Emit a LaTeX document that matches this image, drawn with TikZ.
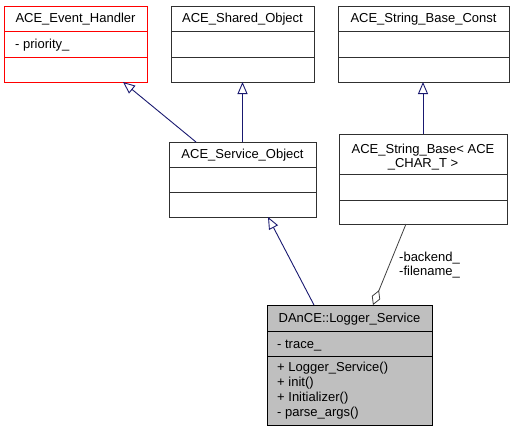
\documentclass[tikz,border=0pt]{standalone}
\usepackage{fontspec}
\setmainfont{Liberation Sans}
\usetikzlibrary{arrows.meta,calc}
\definecolor{edgeblue}{HTML}{191970}
\definecolor{edgegray}{HTML}{404040}
\definecolor{boxgray}{HTML}{BFBFBF}
\definecolor{boxline}{HTML}{303030}
\tikzset{
  cls/.style={draw=boxline, line width=0.9pt, anchor=north west, inner sep=0pt, outer sep=0pt},
  divider/.style={draw=boxline, line width=0.9pt},
  ttl/.style={font=\fontsize{13}{14}\selectfont, align=center, inner sep=0pt, anchor=base},
  mem/.style={font=\fontsize{13}{14.7}\selectfont, align=left, inner sep=0pt, anchor=base west},
  inh/.style={draw=edgeblue, line width=0.9pt, -{Triangle[open, length=12pt, width=10pt, line width=0.9pt]}},
  comp/.style={draw=edgegray, line width=0.8pt, -{Diamond[open, length=16pt, width=9pt, line width=0.8pt]}},
  lbl/.style={font=\fontsize{13}{13.5}\selectfont, align=left, inner sep=0pt, anchor=base west},
}
\begin{document}
\begin{tikzpicture}[x=1pt,y=-1pt]
\useasboundingbox (0,0) rectangle (515,432);

% ACE_Event_Handler
\node[cls, draw=red, minimum width=143pt, minimum height=76pt] (eh) at (4,6) {};
\draw[divider, draw=red] (eh.west |- 0,31) -- (eh.east |- 0,31);
\draw[divider, draw=red] (eh.west |- 0,57) -- (eh.east |- 0,57);
\node[ttl] (ehT) at ($(eh.north)+(0,16)$) {ACE\_Event\_Handler};
\node[mem] (ehA) at ($(eh.north west)+(11,42)$) {- priority\_};

% ACE_Shared_Object
\node[cls, minimum width=143pt, minimum height=76pt] (so) at (171,6) {};
\draw[divider] (so.west |- 0,31) -- (so.east |- 0,31);
\draw[divider] (so.west |- 0,57) -- (so.east |- 0,57);
\node[ttl] (soT) at ($(so.north)+(0,16)$) {ACE\_Shared\_Object};

% ACE_String_Base_Const
\node[cls, minimum width=171pt, minimum height=76pt] (sbc) at (338,6) {};
\draw[divider] (sbc.west |- 0,31) -- (sbc.east |- 0,31);
\draw[divider] (sbc.west |- 0,57) -- (sbc.east |- 0,57);
\node[ttl] (sbcT) at ($(sbc.north)+(0,16)$) {ACE\_String\_Base\_Const};

% ACE_Service_Object
\node[cls, minimum width=147pt, minimum height=75pt] (servo) at (169,142) {};
\draw[divider] (servo.west |- 0,167) -- (servo.east |- 0,167);
\draw[divider] (servo.west |- 0,192) -- (servo.east |- 0,192);
\node[ttl] (servoT) at ($(servo.north)+(0,16)$) {ACE\_Service\_Object};

% ACE_String_Base< ACE_CHAR_T >
\node[cls, minimum width=168pt, minimum height=90pt] (sb) at (339,134) {};
\draw[divider] (sb.west |- 0,174) -- (sb.east |- 0,174);
\draw[divider] (sb.west |- 0,200) -- (sb.east |- 0,200);
\node[ttl] (sbT) at ($(sb.north)+(0,33)$) {ACE\_String\_Base< ACE\\\_CHAR\_T >};

% DAnCE::Logger_Service
\node[cls, fill=boxgray, draw=black, minimum width=165pt, minimum height=120pt] (ls) at (267,305) {};
\draw[divider, draw=black] (ls.west |- 0,331) -- (ls.east |- 0,331);
\draw[divider, draw=black] (ls.west |- 0,356) -- (ls.east |- 0,356);
\node[ttl] (lsT) at ($(ls.north)+(0,17)$) {DAnCE::Logger\_Service};
\node[mem] (lsA) at ($(ls.north west)+(10,43)$) {- trace\_};
\node[mem] (lsM) at ($(ls.north west)+(10,111)$) {+ Logger\_Service()\\+ init()\\+ Initializer()\\- parse\_args()};

% inheritance
\draw[inh] ($(servo.north west)+(27,0)$) -- ($(eh.south west)+(119,0)$);
\draw[inh] (servo.north) -- (servo.north |- so.south);
\draw[inh] (sb.north) -- (sb.north |- sbc.south);
\draw[inh] ($(ls.north west)+(47,0)$) -- ($(servo.south west)+(99,0)$);

% composition
\draw[comp] ($(sb.south west)+(67,0)$) -- ($(ls.north west)+(106,0)$);
\node[lbl] (compL) at (399,275) {-backend\_\\-filename\_};
\end{tikzpicture}
\end{document}
